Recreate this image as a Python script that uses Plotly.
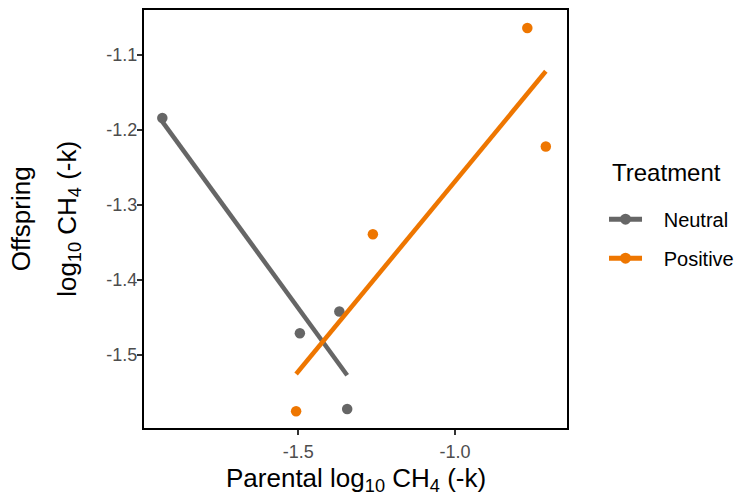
import numpy as np
import plotly.graph_objects as go

# Parental vs offspring log10 CH4 (-k) per treatment line
neutral_parental = [-1.934, -1.495, -1.369, -1.344]
neutral_offspring = [-1.184, -1.471, -1.442, -1.572]
positive_parental = [-1.507, -1.262, -0.769, -0.710]
positive_offspring = [-1.575, -1.339, -1.064, -1.222]

treatments = ["Neutral", "Positive"]
colors = {"Neutral": "#666666", "Positive": "#EE7600"}
x_ticks = [-1.5, -1.0]
x_tick_text = ["-1.5", "-1.0"]
y_ticks = [-1.5, -1.4, -1.3, -1.2, -1.1]
y_tick_text = ["-1.5", "-1.4", "-1.3", "-1.2", "-1.1"]

series = {
    "Neutral": (neutral_parental, neutral_offspring),
    "Positive": (positive_parental, positive_offspring),
}

FONT = "Liberation Sans, Arial, Helvetica, sans-serif"
PAD = "\u00a0\u00a0\u00a0"

fig = go.Figure()
for name in treatments:
    xs, ys = np.array(series[name][0]), np.array(series[name][1])
    slope, intercept = np.polyfit(xs, ys, 1)
    fx = np.array([xs.min(), xs.max()])
    fig.add_trace(go.Scatter(
        x=fx, y=slope * fx + intercept, mode="lines",
        line=dict(color=colors[name], width=4.5),
        showlegend=False, hoverinfo="skip"))
    fig.add_trace(go.Scatter(
        x=xs, y=ys, mode="markers",
        marker=dict(color=colors[name], size=10.5),
        showlegend=False))
    # legend key: line with a point
    fig.add_trace(go.Scatter(
        x=[None], y=[None], mode="lines+markers", name=PAD + name,
        legendgroup=name,
        line=dict(color=colors[name], width=5),
        marker=dict(color=colors[name], size=11)))

axis_common = dict(
    showgrid=False, zeroline=False, showline=True, mirror=True,
    linecolor="black", linewidth=2,
    ticks="outside", ticklen=5, tickwidth=1.5, tickcolor="#333333",
    tickfont=dict(family=FONT, size=18, color="#4D4D4D"),
)

fig.update_xaxes(range=[-1.9925, -0.6424], tickvals=x_ticks,
                 ticktext=x_tick_text, ticklabelstandoff=1, **axis_common)
fig.update_yaxes(range=[-1.5973, -1.04], tickvals=y_ticks,
                 ticktext=y_tick_text, ticklabelstandoff=-4, **axis_common)

fig.update_layout(
    width=735, height=496,
    margin=dict(l=144, r=168, t=10, b=68, autoexpand=False),
    plot_bgcolor="white", paper_bgcolor="white",
    font=dict(family=FONT, color="black"),
    legend=dict(
        font=dict(size=20, family=FONT),
        x=1.0875, xanchor="left", y=0.453, yanchor="middle",
        xref="paper", yref="paper",
        tracegroupgap=10, itemwidth=33,
        bgcolor="rgba(0,0,0,0)",
    ),
    annotations=[
        dict(text="Treatment", x=1.101, y=0.612, xref="paper", yref="paper",
             xanchor="left", yanchor="middle", showarrow=False,
             font=dict(size=24, family=FONT, color="black")),
        dict(text="Parental log<sub>10</sub> CH<sub>4</sub> (-k)",
             x=0.5, y=-0.124, xref="paper", yref="paper",
             xanchor="center", yanchor="middle", showarrow=False,
             font=dict(size=26, family=FONT, color="black")),
        dict(text="Offspring", textangle=-90,
             x=-0.29, y=0.5, xref="paper", yref="paper",
             xanchor="center", yanchor="middle", showarrow=False,
             font=dict(size=26, family=FONT, color="black")),
        dict(text="log<sub>10</sub> CH<sub>4</sub> (-k)", textangle=-90,
             x=-0.18, y=0.5, xref="paper", yref="paper",
             xanchor="center", yanchor="middle", showarrow=False,
             font=dict(size=26, family=FONT, color="black")),
    ],
)

fig.write_html("out.html")
